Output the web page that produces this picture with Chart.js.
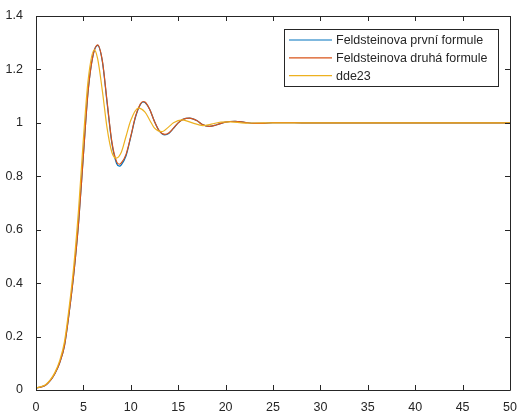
<!DOCTYPE html>
<html>
<head>
<meta charset="utf-8">
<script src="https://cdn.jsdelivr.net/npm/chart.js@4"></script>
<style>
  html, body { margin: 0; padding: 0; background: #fff; }
  #wrap { width: 521px; height: 412px; }
</style>
</head>
<body>
<div id="wrap"><canvas id="chart" width="521" height="412"></canvas></div>
<script>
// series names
const labels = ['Feldsteinova první formule', 'Feldsteinova druhá formule', 'dde23'];

// Feldsteinova první formule
const t1 = [0, 0.5, 1, 1.5, 2, 2.5, 3, 3.5, 4, 4.5, 5, 5.5, 6, 6.5, 7, 7.5, 8, 8.5, 8.8, 9, 9.5, 10, 10.5, 11, 11.3, 11.5, 12, 12.5, 13, 13.6, 14, 14.5, 15, 15.5, 16.2, 17, 17.5, 18.3, 19, 20, 21, 22, 23, 24, 25, 26.5, 28, 50];
const y1 = [0.008, 0.011, 0.018, 0.035, 0.062, 0.102, 0.165, 0.29, 0.44, 0.63, 0.88, 1.12, 1.25, 1.29, 1.23, 1.075, 0.925, 0.848, 0.838, 0.843, 0.877, 0.948, 1.022, 1.068, 1.078, 1.076, 1.05, 1.005, 0.97, 0.955, 0.96, 0.979, 1.0, 1.013, 1.018, 1.008, 0.995, 0.987, 0.992, 1.003, 1.006, 1.002, 0.998, 0.998, 1.001, 1.001, 1.0, 1.0];

// Feldsteinova druhá formule
const t2 = [0, 0.5, 1, 1.5, 2, 2.5, 3, 3.5, 4, 4.5, 5, 5.5, 6, 6.5, 7, 7.5, 8, 8.5, 8.8, 9, 9.5, 10, 10.5, 11, 11.3, 11.5, 12, 12.5, 13, 13.6, 14, 14.5, 15, 15.5, 16.2, 17, 17.5, 18.3, 19, 20, 21, 22, 23, 24, 25, 26.5, 28, 50];
const y2 = [0.008, 0.011, 0.018, 0.035, 0.062, 0.102, 0.165, 0.29, 0.44, 0.63, 0.88, 1.12, 1.25, 1.292, 1.232, 1.08, 0.93, 0.855, 0.845, 0.85, 0.882, 0.95, 1.025, 1.07, 1.08, 1.078, 1.05, 1.005, 0.97, 0.957, 0.962, 0.98, 1.0, 1.013, 1.018, 1.008, 0.995, 0.987, 0.992, 1.003, 1.006, 1.002, 0.998, 0.998, 1.001, 1.001, 1.0, 1.0];

// dde23
const t3 = [0, 0.5, 1, 1.5, 2, 2.5, 3, 3.5, 4, 4.5, 5, 5.5, 6.15, 6.5, 7, 7.5, 8, 8.45, 9, 9.5, 10, 10.8, 11.5, 12, 12.5, 13.25, 14, 14.5, 15.4, 16.5, 17.6, 18.5, 19.5, 20.5, 22, 24, 50];
const y3 = [0.008, 0.012, 0.02, 0.038, 0.066, 0.11, 0.18, 0.31, 0.47, 0.68, 0.94, 1.16, 1.273, 1.24, 1.12, 0.98, 0.89, 0.868, 0.89, 0.95, 1.01, 1.055, 1.04, 1.01, 0.98, 0.967, 0.985, 1.0, 1.011, 1.0, 0.99, 0.995, 1.003, 1.004, 0.999, 1.0, 1.0];

const xTicks = [0, 5, 10, 15, 20, 25, 30, 35, 40, 45, 50];
const yTicks = [0, 0.2, 0.4, 0.6, 0.8, 1, 1.2, 1.4];

const colors = ['#0072BD', '#D95319', '#EDB120'];
const axisColor = '#262626';
const fontFamily = '"Liberation Sans", Arial, sans-serif';

function pts(t, y) {
  return t.map((v, i) => ({ x: v, y: y[i] }));
}

// box, inward ticks, legend (MATLAB look)
const matlabAxes = {
  id: 'matlabAxes',
  afterDraw(chart) {
    const ctx = chart.ctx;
    const a = chart.chartArea;
    const xs = chart.scales.x;
    const ys = chart.scales.y;
    ctx.save();
    ctx.strokeStyle = axisColor;
    ctx.lineWidth = 1;
    ctx.beginPath();
    ctx.rect(Math.round(a.left) + 0.5, Math.round(a.top) + 0.5, Math.round(a.right - a.left), Math.round(a.bottom - a.top));
    ctx.stroke();

    const tl = 5;
    ctx.beginPath();
    xTicks.forEach(v => {
      const px = Math.round(xs.getPixelForValue(v)) + 0.5;
      ctx.moveTo(px, a.bottom); ctx.lineTo(px, a.bottom - tl);
      ctx.moveTo(px, a.top); ctx.lineTo(px, a.top + tl);
    });
    yTicks.forEach(v => {
      const py = Math.round(ys.getPixelForValue(v)) + 0.5;
      ctx.moveTo(a.left, py); ctx.lineTo(a.left + tl, py);
      ctx.moveTo(a.right, py); ctx.lineTo(a.right - tl, py);
    });
    ctx.stroke();

    // legend
    const lx = 284.5, ly = 29.5, lw = 214, lh = 57;
    ctx.fillStyle = '#fff';
    ctx.fillRect(lx, ly, lw, lh);
    ctx.strokeStyle = axisColor;
    ctx.lineWidth = 1;
    ctx.strokeRect(lx, ly, lw, lh);
    ctx.font = '12.5px ' + fontFamily;
    ctx.textBaseline = 'middle';
    ctx.textAlign = 'left';
    labels.forEach((lab, i) => {
      const cy = 40 + i * 17.8;
      ctx.strokeStyle = colors[i];
      ctx.lineWidth = 1.2;
      ctx.beginPath();
      ctx.moveTo(289, cy);
      ctx.lineTo(332, cy);
      ctx.stroke();
      ctx.fillStyle = axisColor;
      ctx.fillText(lab, 336, cy + 1);
    });
    ctx.restore();
  }
};

new Chart(document.getElementById('chart'), {
  type: 'line',
  data: {
    datasets: [
      { label: labels[0], data: pts(t1, y1), borderColor: colors[0], order: 3 },
      { label: labels[1], data: pts(t2, y2), borderColor: colors[1], order: 2 },
      { label: labels[2], data: pts(t3, y3), borderColor: colors[2], order: 1 }
    ].map(d => Object.assign(d, {
      borderWidth: 1.2,
      pointRadius: 0,
      fill: false,
      cubicInterpolationMode: 'monotone'
    }))
  },
  options: {
    responsive: false,
    animation: false,
    layout: { padding: { top: 16, right: 11, left: 0, bottom: 0 } },
    plugins: { legend: { display: false }, tooltip: { enabled: false } },
    scales: {
      x: {
        type: 'linear', min: 0, max: 50,
        grid: { display: false },
        border: { display: false },
        afterBuildTicks: s => { s.ticks = xTicks.map(v => ({ value: v })); },
        afterFit: s => { s.height = 22; },
        ticks: { color: axisColor, font: { family: fontFamily, size: 12.5 }, padding: 2, maxRotation: 0,
                 callback: v => String(v) }
      },
      y: {
        min: 0, max: 1.4,
        grid: { display: false },
        border: { display: false },
        afterBuildTicks: s => { s.ticks = yTicks.map(v => ({ value: v })); },
        afterFit: s => { s.width = 36; },
        ticks: { color: axisColor, font: { family: fontFamily, size: 12.5 }, padding: 5,
                 callback: v => String(Math.round(v * 10) / 10) }
      }
    }
  },
  plugins: [matlabAxes]
});
</script>
</body>
</html>
